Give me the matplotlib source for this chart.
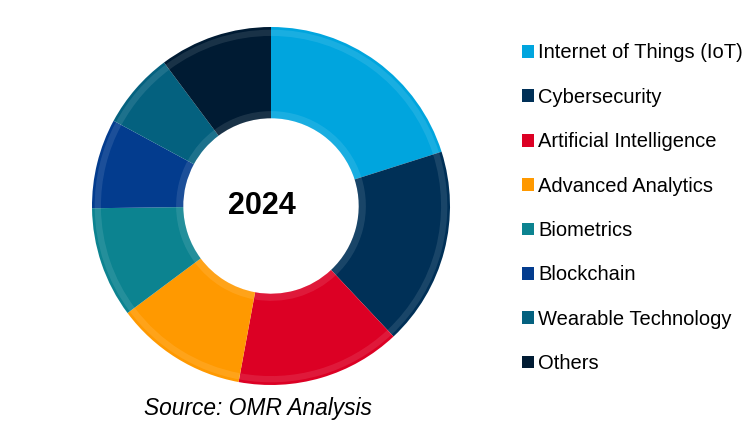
import matplotlib.pyplot as plt
from matplotlib.patches import Patch

labels = ["Internet of Things (IoT)", "Cybersecurity", "Artificial Intelligence",
          "Advanced Analytics", "Biometrics", "Blockchain",
          "Wearable Technology", "Others"]
shares = [20.1, 17.9, 14.9, 11.9, 10.0, 8.1, 6.9, 10.2]
colors = ["#00A5DE", "#003057", "#DC0024", "#FF9900",
          "#0C8390", "#033C8E", "#04617F", "#001B33"]
year = "2024"
source = "Source: OMR Analysis"

fig = plt.figure(figsize=(7.56, 4.45), dpi=100)
ax = fig.add_axes([92 / 756, 60 / 445, 358 / 756, 358 / 445])

wedges, _ = ax.pie(shares, colors=colors, startangle=90, counterclock=False,
                   radius=1.0, wedgeprops=dict(width=0.51, linewidth=0))
# soft bevel highlights on outer and inner rims
ax.pie(shares, colors=["white"] * len(shares), startangle=90, counterclock=False,
       radius=0.985, wedgeprops=dict(width=0.035, linewidth=0, alpha=0.1))
ax.pie(shares, colors=["white"] * len(shares), startangle=90, counterclock=False,
       radius=0.53, wedgeprops=dict(width=0.04, linewidth=0, alpha=0.1))
ax.set_xlim(-1, 1)
ax.set_ylim(-1, 1)
ax.set_aspect("equal")
ax.axis("off")

ax.text(-0.05, 0.0, year, ha="center", va="center", fontsize=22,
        fontweight="bold", family="Liberation Sans")

fig.text(258 / 756, 1 - 408 / 445, source, ha="center", va="center",
         fontsize=16.4, style="italic", family="Liberation Sans")

handles = [Patch(facecolor=c, edgecolor="none") for c in colors]
fig.legend(handles, labels, loc="upper left",
           bbox_to_anchor=(522 / 756, 1 - 43.5 / 445), frameon=False,
           prop=dict(family="Liberation Sans", size=14.5),
           handlelength=0.6, handleheight=0.6, handletextpad=0.2,
           labelspacing=1.26, borderpad=0, borderaxespad=0)

fig.savefig("out.png", dpi=100)
